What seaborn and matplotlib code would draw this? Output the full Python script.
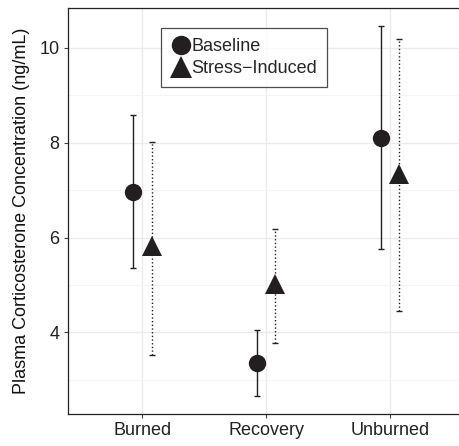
import numpy as np
import pandas as pd
import matplotlib
matplotlib.use("Agg")
import matplotlib.pyplot as plt
from matplotlib.lines import Line2D
import seaborn as sns

sites = ["Burned", "Recovery", "Unburned"]
baseline_mean = [6.97, 3.36, 8.10]
baseline_low = [5.36, 2.65, 5.75]
baseline_high = [8.59, 4.06, 10.45]
stress_mean = [5.82, 5.02, 7.33]
stress_low = [3.52, 3.78, 4.46]
stress_high = [8.01, 6.17, 10.18]
groups = ["Baseline", "Stress\u2212Induced"]

df = pd.DataFrame({
    "Site": sites * 2,
    "Group": [groups[0]] * 3 + [groups[1]] * 3,
    "Mean": baseline_mean + stress_mean,
})

sns.set_style("whitegrid")
plt.rcParams['font.family'] = ['Liberation Sans', 'DejaVu Sans']

fig = plt.figure(figsize=(4.6, 4.46), dpi=100)
ax = fig.add_axes([68/460, 32/446, 392/460, 406/446])

ink = "#231F20"
dodge = 0.15
sns.pointplot(data=df, x="Site", y="Mean", hue="Group", order=sites,
              hue_order=groups, dodge=dodge, markers=["o", "^"],
              linestyles="none", palette=[ink, ink], errorbar=None,
              markersize=12, ax=ax, legend=False)

# marker sizing (before error bars are added)
for ln in ax.lines:
    mk = ln.get_marker()
    if mk == "o":
        ln.set_markersize(12.5)
    elif mk == "^":
        ln.set_markersize(14.5)
    ln.set_markeredgewidth(0)
    ln.set_zorder(5)

xpos = np.arange(len(sites))
for i, (m, lo, hi, ls) in enumerate([
        (baseline_mean, baseline_low, baseline_high, "-"),
        (stress_mean, stress_low, stress_high, ":")]):
    off = -dodge / 2 if i == 0 else dodge / 2
    m = np.array(m); lo = np.array(lo); hi = np.array(hi)
    eb = ax.errorbar(xpos + off, m, yerr=[m - lo, hi - m], fmt="none",
                     ecolor=ink, elinewidth=1.0, capsize=2.2, capthick=1.0,
                     zorder=3)
    for lc in eb[2]:
        lc.set_linestyle(ls)

ax.set_xlim(-0.6, 2.565)
ax.set_ylim(2.28, 10.84)
ax.set_yticks([4, 6, 8, 10])
ax.set_yticks([3, 5, 7, 9], minor=True)
ax.grid(True, which="major", color="#EBEBEB", linewidth=1.0)
ax.grid(True, which="minor", axis="y", color="#F2F2F2", linewidth=0.6)
ax.set_axisbelow(True)

for s in ["left", "bottom", "top"]:
    ax.spines[s].set_visible(True)
    ax.spines[s].set_color("#222222")
    ax.spines[s].set_linewidth(0.9)
ax.spines["right"].set_visible(False)

ax.tick_params(axis="both", which="major", length=3, width=0.8,
               color="#444444", labelsize=13, labelcolor="#222222",
               left=True, bottom=True, pad=3)
ax.tick_params(axis="y", which="minor", length=0)
ax.set_xlabel("")
ax.set_ylabel("Plasma Corticosterone Concentration (ng/mL)", fontsize=13,
              color="#111111", labelpad=7)

handles = [
    Line2D([], [], marker="o", color=ink, linestyle="none", markersize=14,
           markeredgewidth=0),
    Line2D([], [], marker="^", color=ink, linestyle="none", markersize=16,
           markeredgewidth=0),
]
leg = ax.legend(handles, groups, loc="upper left",
                bbox_to_anchor=((161 - 68) / 392, (414 - 28) / 406),
                frameon=True, fancybox=False, fontsize=13,
                handlelength=1.1, handletextpad=0.05, labelspacing=0.3,
                borderpad=0.55, borderaxespad=0, borderaxespad_=None) if False else ax.legend(
                handles, groups, loc="upper left",
                bbox_to_anchor=((161 - 68) / 392, (414 - 28) / 406),
                frameon=True, fancybox=False, fontsize=13,
                handlelength=1.1, handletextpad=0.05, labelspacing=0.3,
                borderpad=0.55, borderaxespad=0)
leg.get_frame().set_edgecolor("#222222")
leg.get_frame().set_linewidth(0.9)

fig.savefig("out.png", dpi=100)
